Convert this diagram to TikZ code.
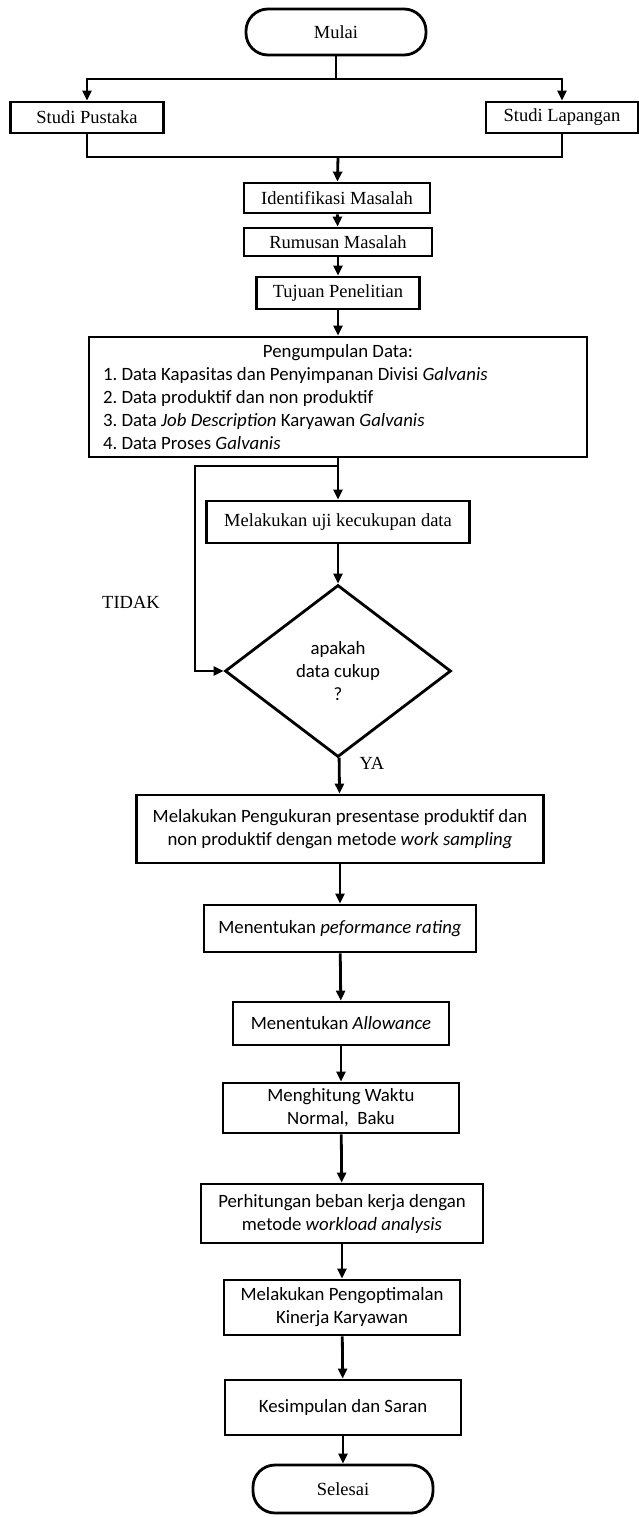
\documentclass[tikz,border=0pt]{standalone}
\usepackage{fontspec}
\setmainfont{Liberation Serif}
\newfontfamily\calibri{Carlito}
\usetikzlibrary{arrows.meta,shapes.geometric}

\begin{document}
\begin{tikzpicture}[x=1pt,y=-1pt,line width=2.8pt,
    arrow/.style={-{Triangle[length=10pt,width=9pt]}},
    box/.style={draw,rectangle,inner sep=2pt,font=\fontsize{18.5}{22}\selectfont},
    cbox/.style={box,font=\calibri\fontsize{18.8}{23}\selectfont,align=center},
    terminal/.style={box,rounded corners=22pt},
    decision/.style={draw,diamond,inner sep=0pt,align=center,
        font=\calibri\fontsize{18.8}{23}\selectfont},
    tag/.style={font=\fontsize{18.5}{22}\selectfont}]
    \useasboundingbox (0,0) rectangle (639,1517);
    % start and the two studies
    \node[terminal,minimum width=180,minimum height=46] (mulai) at (336,32) {Mulai};
    \node[box,minimum width=153,minimum height=31] (pustaka) at (87,117.5) {Studi Pustaka};
    \node[box,minimum width=152,minimum height=31] (lapangan) at (562,117.5) {Studi Lapangan};
    \coordinate (split) at (336,79);
    \coordinate (join) at (338,157);
    \draw (mulai) -- (split);
    \draw[arrow] (split) -| (pustaka.north);
    \draw[arrow] (split) -| (lapangan.north);
    \draw (pustaka.south) |- (join) -| (lapangan.south);
    % problem definition
    \node[box,minimum width=186,minimum height=30] (identifikasi) at (337,198) {Identifikasi Masalah};
    \node[box,minimum width=188,minimum height=28] (rumusan) at (338,242) {Rumusan Masalah};
    \node[box,minimum width=163,minimum height=32] (tujuan) at (338,293) {Tujuan Penelitian};
    \draw[arrow] (join) -- (identifikasi);
    \draw[arrow] (identifikasi) -- (rumusan);
    \draw[arrow] (rumusan) -- (tujuan);
    % data collection
    \node[box,font=\calibri\fontsize{18.8}{23}\selectfont\frenchspacing,align=flush left,text width=470,
        minimum width=498,minimum height=120] (pengumpulan) at (338,397)
        {\makebox[\linewidth][c]{Pengumpulan Data:}\\
         1. Data Kapasitas dan Penyimpanan Divisi \textit{Galvanis}\\
         2. Data produktif dan non produktif\\
         3. Data \textit{Job Description} Karyawan \textit{Galvanis}\\
         4. Data Proses \textit{Galvanis}};
    \draw[arrow] (tujuan) -- (pengumpulan);
    % adequacy test
    \node[box,minimum width=263,minimum height=42] (uji) at (338,522) {Melakukan uji kecukupan data};
    \node[decision,minimum width=226,minimum height=172] (cek) at (338,671) {apakah\\data cukup\\?};
    \coordinate (back) at (338,466);
    \draw[arrow] (pengumpulan) -- (uji);
    \draw[arrow] (uji) -- (cek);
    \draw[arrow] (back) -- ++(-143,0) |- (cek.west);
    \node[tag] (tidak) at (131,602) {TIDAK};
    \node[tag] (ya) at (372,763) {YA};
    % measurement steps
    \node[cbox,minimum width=407,minimum height=68] (pengukuran) at (340,829)
        {Melakukan Pengukuran presentase produktif dan\\non produktif dengan metode \textit{work sampling}};
    \node[cbox,minimum width=272,minimum height=47] (rating) at (340,928.5) {Menentukan \textit{peformance rating}};
    \node[cbox,minimum width=216,minimum height=43] (allowance) at (341,1023.5) {Menentukan \textit{Allowance}};
    \node[cbox,minimum width=236,minimum height=50] (menghitung) at (341,1108) {Menghitung Waktu\\Normal,\ \ Baku};
    \node[cbox,minimum width=282,minimum height=59] (perhitungan) at (342,1213.5)
        {Perhitungan beban kerja dengan\\metode \textit{workload analysis}};
    \node[cbox,minimum width=236,minimum height=55] (optimal) at (342,1307.5) {Melakukan Pengoptimalan\\Kinerja Karyawan};
    \node[cbox,minimum width=236,minimum height=55] (kesimpulan) at (343,1407.5) {Kesimpulan dan Saran};
    \node[terminal,minimum width=180,minimum height=48] (selesai) at (343,1489) {Selesai};
    \draw[arrow] (cek) -- (pengukuran);
    \draw[arrow] (pengukuran) -- (rating);
    \draw[arrow] (rating) -- (allowance);
    \draw[arrow] (allowance) -- (menghitung);
    \draw[arrow] (menghitung) -- (perhitungan);
    \draw[arrow] (perhitungan) -- (optimal);
    \draw[arrow] (optimal) -- (kesimpulan);
    \draw[arrow] (kesimpulan) -- (selesai);
\end{tikzpicture}
\end{document}
